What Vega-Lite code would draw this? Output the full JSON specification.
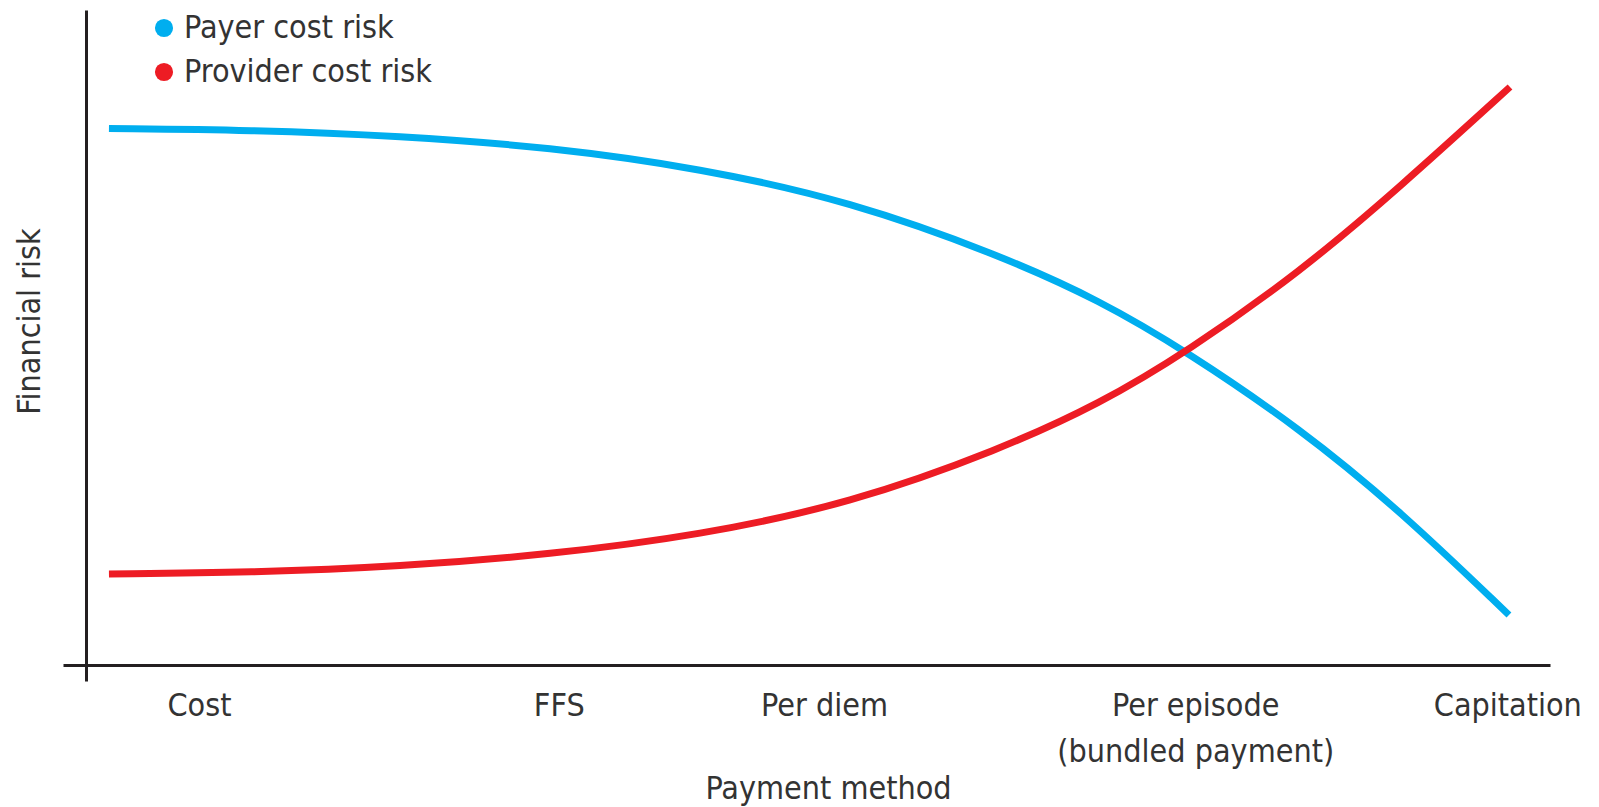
{
  "$schema": "https://vega.github.io/schema/vega-lite/v6.json",
  "width": 1487,
  "height": 671,
  "autosize": {"type": "none"},
  "padding": {"left": 63, "top": 10, "right": 49, "bottom": 126},
  "background": "white",
  "config": {
    "view": {"stroke": null},
    "font": "DejaVu Sans Condensed",
    "axis": {"labelFont": "DejaVu Sans Condensed", "titleFont": "DejaVu Sans Condensed"},
    "legend": {"labelFont": "DejaVu Sans Condensed"}
  },
  "data": {
    "values": [
      {"position": 3.09, "risk": 82.34, "series": "Payer cost risk"},
      {"position": 12.58, "risk": 82.13, "series": "Payer cost risk"},
      {"position": 22.66, "risk": 81.24, "series": "Payer cost risk"},
      {"position": 32.75, "risk": 79.55, "series": "Payer cost risk"},
      {"position": 42.84, "risk": 76.42, "series": "Payer cost risk"},
      {"position": 52.93, "risk": 71.51, "series": "Payer cost risk"},
      {"position": 63.01, "risk": 63.46, "series": "Payer cost risk"},
      {"position": 69.74, "risk": 56.70, "series": "Payer cost risk"},
      {"position": 75.59, "risk": 49.08, "series": "Payer cost risk"},
      {"position": 83.19, "risk": 37.63, "series": "Payer cost risk"},
      {"position": 89.91, "risk": 25.41, "series": "Payer cost risk"},
      {"position": 97.24, "risk": 9.84, "series": "Payer cost risk"},
      {"position": 3.09, "risk": 15.95, "series": "Provider cost risk"},
      {"position": 12.58, "risk": 16.15, "series": "Provider cost risk"},
      {"position": 22.66, "risk": 17.05, "series": "Provider cost risk"},
      {"position": 32.75, "risk": 18.84, "series": "Provider cost risk"},
      {"position": 42.84, "risk": 21.74, "series": "Provider cost risk"},
      {"position": 52.93, "risk": 26.44, "series": "Provider cost risk"},
      {"position": 63.01, "risk": 34.49, "series": "Provider cost risk"},
      {"position": 69.74, "risk": 41.34, "series": "Provider cost risk"},
      {"position": 75.59, "risk": 49.08, "series": "Provider cost risk"},
      {"position": 83.19, "risk": 60.94, "series": "Provider cost risk"},
      {"position": 89.91, "risk": 73.61, "series": "Provider cost risk"},
      {"position": 97.31, "risk": 88.52, "series": "Provider cost risk"}
    ]
  },
  "mark": {"type": "line", "strokeWidth": 7, "interpolate": "basis", "strokeCap": "butt"},
  "encoding": {
    "x": {
      "field": "position",
      "type": "quantitative",
      "scale": {"domain": [0, 100], "nice": false, "zero": false},
      "axis": {
        "title": "Payment method",
        "titleFontSize": 32,
        "titleFontWeight": "normal",
        "titleColor": "#333333",
        "titleX": 765,
        "titleY": 133,
        "titleBaseline": "alphabetic",
        "titleAlign": "center",
        "titleLimit": 0,
        "offset": -16,
        "domainColor": "#231f20",
        "domainWidth": 3,
        "grid": false,
        "ticks": false,
        "values": [9.14, 33.34, 51.18, 76.14, 97.13],
        "labelExpr": "datum.value < 20 ? 'Cost' : datum.value < 40 ? 'FFS' : datum.value < 60 ? 'Per diem' : datum.value < 90 ? ['Per episode', '(bundled payment)'] : 'Capitation'",
        "labelFontSize": 32,
        "labelColor": "#333333",
        "labelPadding": 25,
        "labelBaseline": "top",
        "labelAlign": "center",
        "labelLineHeight": 46,
        "labelLimit": 0,
        "labelFlush": false,
        "labelOverlap": false
      }
    },
    "y": {
      "field": "risk",
      "type": "quantitative",
      "scale": {"domain": [0, 100], "nice": false, "zero": false},
      "axis": {
        "title": "Financial risk",
        "titleFontSize": 32,
        "titleFontWeight": "normal",
        "titleColor": "#333333",
        "titleX": -47,
        "titleY": 311,
        "titleAngle": -90,
        "titleBaseline": "alphabetic",
        "titleAlign": "center",
        "titleLimit": 0,
        "offset": -23,
        "domainColor": "#231f20",
        "domainWidth": 3,
        "grid": false,
        "ticks": false,
        "labels": false
      }
    },
    "color": {
      "field": "series",
      "type": "nominal",
      "scale": {"domain": ["Payer cost risk", "Provider cost risk"], "range": ["#00AEEF", "#ED1C24"]},
      "legend": {
        "title": null,
        "orient": "none",
        "legendX": 85,
        "legendY": 2,
        "padding": 0,
        "symbolType": "circle",
        "symbolSize": 330,
        "symbolStrokeWidth": 0,
        "labelFontSize": 32,
        "labelColor": "#333333",
        "labelOffset": 4,
        "labelLimit": 0,
        "rowPadding": 12,
        "encode": {
          "symbols": {"update": {"fill": {"scale": "color", "field": "value"}, "opacity": {"value": 1}}}
        }
      }
    }
  }
}
